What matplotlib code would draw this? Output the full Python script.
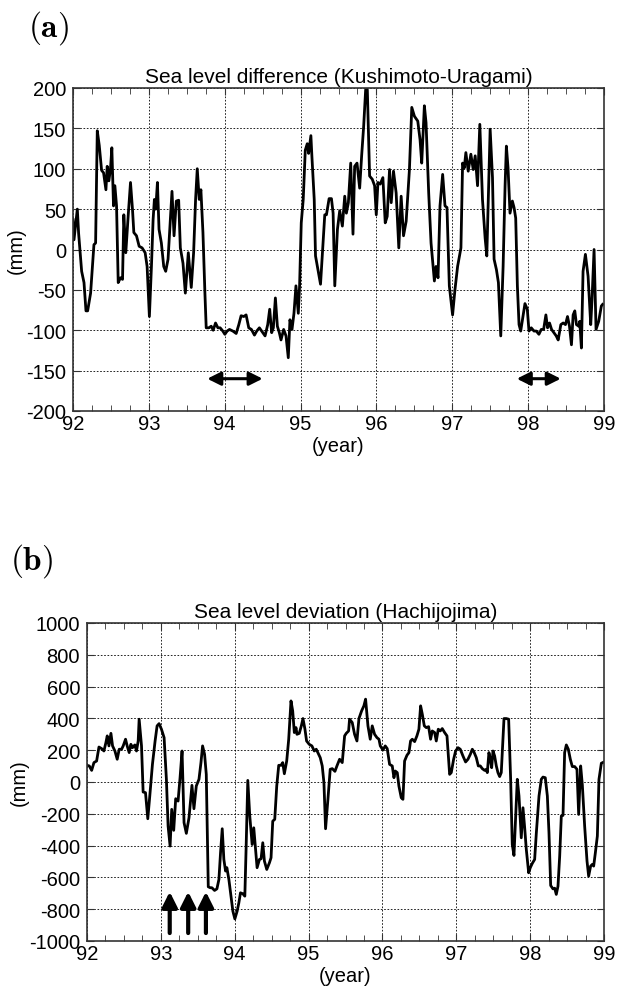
import matplotlib
matplotlib.use('Agg')
import matplotlib.pyplot as plt
from matplotlib.ticker import MultipleLocator

plt.rcParams['font.family'] = ['Liberation Sans', 'DejaVu Sans']
plt.rcParams['axes.unicode_minus'] = False
plt.rcParams['mathtext.fontset'] = 'cm'

# (a) sea level difference Kushimoto - Uragami, mm
year_a = [92.000, 92.013, 92.057, 92.074, 92.114, 92.145, 92.171, 92.193, 92.232, 92.276,
          92.298, 92.320, 92.346, 92.377, 92.403, 92.434, 92.451, 92.473, 92.495, 92.512,
          92.534, 92.552, 92.574, 92.596, 92.626, 92.653, 92.670, 92.696, 92.727, 92.758,
          92.784, 92.802, 92.837, 92.872, 92.911, 92.951, 92.977, 93.007, 93.034, 93.056,
          93.073, 93.091, 93.113, 93.134, 93.165, 93.196, 93.222, 93.253, 93.283, 93.305,
          93.332, 93.362, 93.393, 93.415, 93.450, 93.481, 93.520, 93.559, 93.590, 93.616,
          93.638, 93.664, 93.686, 93.713, 93.739, 93.756, 93.791, 93.822, 93.848, 93.879,
          93.910, 93.940, 93.975, 94.002, 94.032, 94.063, 94.107, 94.151, 94.186, 94.216,
          94.251, 94.282, 94.317, 94.352, 94.392, 94.422, 94.457, 94.501, 94.532, 94.567,
          94.593, 94.619, 94.641, 94.668, 94.694, 94.720, 94.742, 94.777, 94.808, 94.838,
          94.860, 94.887, 94.913, 94.939, 94.970, 94.987, 95.009, 95.035, 95.062, 95.088,
          95.106, 95.136, 95.149, 95.180, 95.197, 95.263, 95.319, 95.341, 95.376, 95.407,
          95.429, 95.451, 95.486, 95.516, 95.551, 95.582, 95.604, 95.630, 95.661, 95.691,
          95.713, 95.744, 95.779, 95.805, 95.832, 95.858, 95.880, 95.910, 95.945, 95.976,
          95.998, 96.020, 96.050, 96.085, 96.116, 96.142, 96.173, 96.195, 96.225, 96.260,
          96.295, 96.326, 96.357, 96.392, 96.435, 96.466, 96.501, 96.545, 96.575, 96.597,
          96.632, 96.654, 96.689, 96.720, 96.764, 96.786, 96.812, 96.838, 96.873, 96.904,
          96.930, 96.961, 97.004, 97.035, 97.070, 97.114, 97.136, 97.158, 97.179, 97.210,
          97.245, 97.276, 97.302, 97.333, 97.363, 97.398, 97.433, 97.455, 97.477, 97.499,
          97.530, 97.551, 97.582, 97.608, 97.639, 97.670, 97.696, 97.713, 97.735, 97.761,
          97.792, 97.814, 97.836, 97.858, 97.880, 97.902, 97.932, 97.958, 97.989, 98.011,
          98.041, 98.077, 98.107, 98.142, 98.173, 98.204, 98.234, 98.256, 98.282, 98.309,
          98.339, 98.370, 98.396, 98.431, 98.462, 98.492, 98.519, 98.545, 98.571, 98.593,
          98.615, 98.637, 98.667, 98.680, 98.702, 98.724, 98.755, 98.790, 98.825, 98.842,
          98.869, 98.895, 98.930, 98.965, 98.982]
diff_a = [37, 12, 50, 20, -27, -41, -76, -76, -54, 6,
          8, 147, 129, 98, 95, 74, 103, 85, 101, 126,
          54, 79, 54, -41, -35, -37, 43, -4, 41, 83,
          50, 21, 17, 4, 2, -4, -21, -83, -21, 37,
          62, 50, 83, 25, 8, -21, -27, -12, 37, 72,
          17, 60, 61, 2, -17, -54, -4, -47, -4, 62,
          100, 62, 74, 21, -54, -97, -97, -95, -100, -91,
          -97, -97, -101, -105, -101, -99, -101, -104, -93, -82,
          -83, -81, -97, -99, -106, -101, -97, -103, -107, -93,
          -74, -103, -97, -60, -95, -103, -112, -99, -107, -134,
          -87, -99, -79, -45, -79, -45, 33, 62, 123, 131,
          119, 141, 116, 62, -8, -43, 43, 43, 63, 63,
          45, -45, 25, 48, 29, 66, 45, 58, 107, 19,
          103, 107, 76, 116, 153, 198, 198, 91, 87, 79,
          43, 83, 81, 89, 33, 41, 99, 58, 97, 70,
          2, 66, 17, 35, 99, 176, 165, 159, 136, 107,
          178, 157, 70, 8, -39, -21, -35, 54, 93, 54,
          52, -45, -81, -50, -21, 2, 107, 101, 120, 97,
          118, 99, 116, 79, 155, 62, 14, -8, 70, 149,
          89, -12, -25, -41, -107, -21, 79, 128, 101, 45,
          60, 52, 39, -45, -93, -101, -83, -67, -74, -101,
          -97, -101, -101, -105, -99, -99, -81, -97, -91, -99,
          -103, -107, -112, -93, -91, -93, -83, -95, -118, -81,
          -76, -93, -95, -89, -122, -27, -6, -33, -93, -62,
          0, -99, -89, -70, -68]

# (b) sea level deviation Hachijojima, mm
year_b = [92.000, 92.031, 92.063, 92.094, 92.130, 92.162, 92.198, 92.229, 92.256, 92.274,
          92.297, 92.324, 92.346, 92.378, 92.409, 92.436, 92.468, 92.490, 92.522, 92.544,
          92.571, 92.594, 92.616, 92.648, 92.670, 92.693, 92.706, 92.738, 92.760, 92.792,
          92.823, 92.850, 92.886, 92.922, 92.949, 92.976, 93.008, 93.044, 93.075, 93.098,
          93.125, 93.147, 93.174, 93.201, 93.233, 93.260, 93.287, 93.314, 93.345, 93.381,
          93.421, 93.448, 93.480, 93.516, 93.543, 93.565, 93.592, 93.615, 93.642, 93.669,
          93.691, 93.727, 93.759, 93.786, 93.808, 93.831, 93.853, 93.876, 93.894, 93.921,
          93.952, 93.975, 94.002, 94.033, 94.056, 94.078, 94.110, 94.137, 94.155, 94.177,
          94.204, 94.236, 94.258, 94.281, 94.303, 94.335, 94.357, 94.380, 94.402, 94.434,
          94.470, 94.492, 94.515, 94.542, 94.569, 94.596, 94.627, 94.650, 94.672, 94.704,
          94.731, 94.762, 94.785, 94.807, 94.830, 94.843, 94.874, 94.902, 94.924, 94.951,
          94.973, 95.009, 95.045, 95.077, 95.104, 95.158, 95.185, 95.208, 95.230, 95.262,
          95.293, 95.321, 95.357, 95.384, 95.420, 95.456, 95.488, 95.510, 95.542, 95.555,
          95.591, 95.623, 95.655, 95.682, 95.718, 95.749, 95.772, 95.804, 95.835, 95.862,
          95.894, 95.926, 95.953, 95.971, 96.007, 96.038, 96.065, 96.097, 96.133, 96.156,
          96.174, 96.201, 96.223, 96.255, 96.278, 96.300, 96.332, 96.359, 96.381, 96.404,
          96.436, 96.467, 96.494, 96.517, 96.540, 96.567, 96.594, 96.625, 96.652, 96.675,
          96.707, 96.729, 96.756, 96.783, 96.810, 96.842, 96.874, 96.910, 96.932, 96.964,
          96.991, 97.023, 97.054, 97.090, 97.126, 97.158, 97.190, 97.217, 97.239, 97.271,
          97.298, 97.325, 97.352, 97.384, 97.406, 97.420, 97.442, 97.460, 97.479, 97.497,
          97.519, 97.542, 97.564, 97.587, 97.609, 97.646, 97.677, 97.709, 97.736, 97.758,
          97.781, 97.804, 97.826, 97.849, 97.880, 97.903, 97.926, 97.948, 97.980, 98.002,
          98.029, 98.061, 98.084, 98.120, 98.151, 98.174, 98.205, 98.233, 98.255, 98.278,
          98.309, 98.332, 98.354, 98.377, 98.400, 98.422, 98.445, 98.467, 98.490, 98.517,
          98.544, 98.571, 98.603, 98.634, 98.657, 98.684, 98.707, 98.738, 98.770, 98.792,
          98.819, 98.842, 98.860, 98.883, 98.910, 98.932, 98.964, 99.000]
dev_b = [105, 101, 73, 122, 132, 220, 210, 195, 248, 290,
         227, 306, 227, 195, 143, 206, 206, 227, 269, 227,
         185, 237, 216, 233, 195, 258, 395, 227, -63, -67,
         -231, -88, 111, 258, 353, 367, 332, 279, 17, -277,
         -403, -172, -304, -105, -120, 27, 195, -256, -323, -225,
         -21, -168, -25, 17, 122, 227, 174, 48, -659, -665,
         -665, -682, -672, -613, -445, -294, -487, -560, -539, -613,
         -729, -812, -861, -812, -760, -697, -703, -718, -403, 10,
         -214, -393, -288, -413, -539, -487, -483, -382, -497, -550,
         -508, -476, -246, -235, -25, 105, 105, 122, 52, 132,
         269, 510, 447, 311, 342, 300, 306, 353, 399, 332,
         258, 237, 227, 195, 206, 153, 101, -4, -294, -109,
         80, 84, 67, 101, 143, 122, 290, 306, 321, 395,
         374, 300, 258, 399, 447, 479, 521, 353, 269, 353,
         300, 279, 269, 227, 201, 227, 210, 111, 101, 27,
         69, 59, -25, -99, -109, 132, 168, 185, 258, 269,
         254, 290, 332, 479, 426, 353, 342, 348, 269, 321,
         311, 258, 332, 321, 336, 311, 290, 48, 59, 143,
         195, 216, 206, 164, 126, 143, 174, 206, 189, 153,
         101, 101, 84, 73, 80, 59, 185, 147, 90, 195,
         164, 101, 59, 34, 59, 399, 399, 395, 17, -393,
         -462, -214, 17, -88, -351, -162, -288, -424, -571, -539,
         -512, -487, -319, -88, 17, 31, 27, -88, -319, -651,
         -672, -668, -707, -655, -466, -214, -210, 185, 233, 206,
         143, 97, 97, 80, -204, 101, -21, -277, -497, -592,
         -529, -518, -529, -445, -340, 17, 118, 126]

# marked periods / events
periods_a = [(93.77, 94.50), (97.85, 98.43)]
period_level_a = -160
events_b = [93.12, 93.37, 93.61]
event_span_b = (-950, -690)

FS = 14.5


def style(ax, lo, hi, step):
    ax.set_xlim(92, 99)
    ax.set_ylim(lo, hi)
    ax.xaxis.set_major_locator(MultipleLocator(1))
    ax.xaxis.set_minor_locator(MultipleLocator(0.25))
    ax.yaxis.set_major_locator(MultipleLocator(step))
    ax.tick_params(which='both', direction='in', top=True, right=True,
                   labelsize=FS, color='#333333')
    ax.tick_params(axis='x', pad=2)
    ax.tick_params(axis='y', pad=5)
    ax.tick_params(which='major', length=5)
    ax.tick_params(which='minor', length=4)
    ax.grid(True, which='major', color='black', linestyle=(0, (2, 2)), linewidth=0.6)
    for s in ax.spines.values():
        s.set_linewidth(1.2)
        s.set_color('#333333')
    ax.set_xlabel('(year)', fontsize=FS, labelpad=2)
    ax.set_ylabel('(mm)', fontsize=FS, labelpad=0)


fig = plt.figure(figsize=(6.18, 9.87), dpi=100)

ax1 = fig.add_axes([73 / 618, 1 - 412 / 987, 531 / 618, 323 / 987])
ax1.plot(year_a, diff_a, color='black', linewidth=2.0)
style(ax1, -200, 200, 50)
ax1.set_title('Sea level difference (Kushimoto-Uragami)', fontsize=15, pad=4)
for x0, x1 in periods_a:
    ax1.annotate('', xy=(x1, period_level_a), xytext=(x0, period_level_a),
                 arrowprops=dict(arrowstyle='<|-|>,head_length=0.8,head_width=0.4',
                                 lw=2.2, color='black', shrinkA=0, shrinkB=0,
                                 mutation_scale=10))
fig.text(48 / 618, 1 - 28 / 987, r'$\mathbf{(a)}$', fontsize=24, ha='center', va='center')

ax2 = fig.add_axes([87 / 618, 1 - 942 / 987, 517 / 618, 318 / 987])
ax2.plot(year_b, dev_b, color='black', linewidth=2.0)
style(ax2, -1000, 1000, 200)
ax2.set_title('Sea level deviation (Hachijojima)', fontsize=15, pad=4)
for x in events_b:
    ax2.annotate('', xy=(x, event_span_b[1]), xytext=(x, event_span_b[0]),
                 arrowprops=dict(arrowstyle='-|>,head_length=0.9,head_width=0.45',
                                 lw=3.0, color='black', shrinkA=0, shrinkB=0,
                                 mutation_scale=10))
fig.text(32 / 618, 1 - 561 / 987, r'$\mathbf{(b)}$', fontsize=24, ha='center', va='center')

fig.savefig('out.png', dpi=100)
